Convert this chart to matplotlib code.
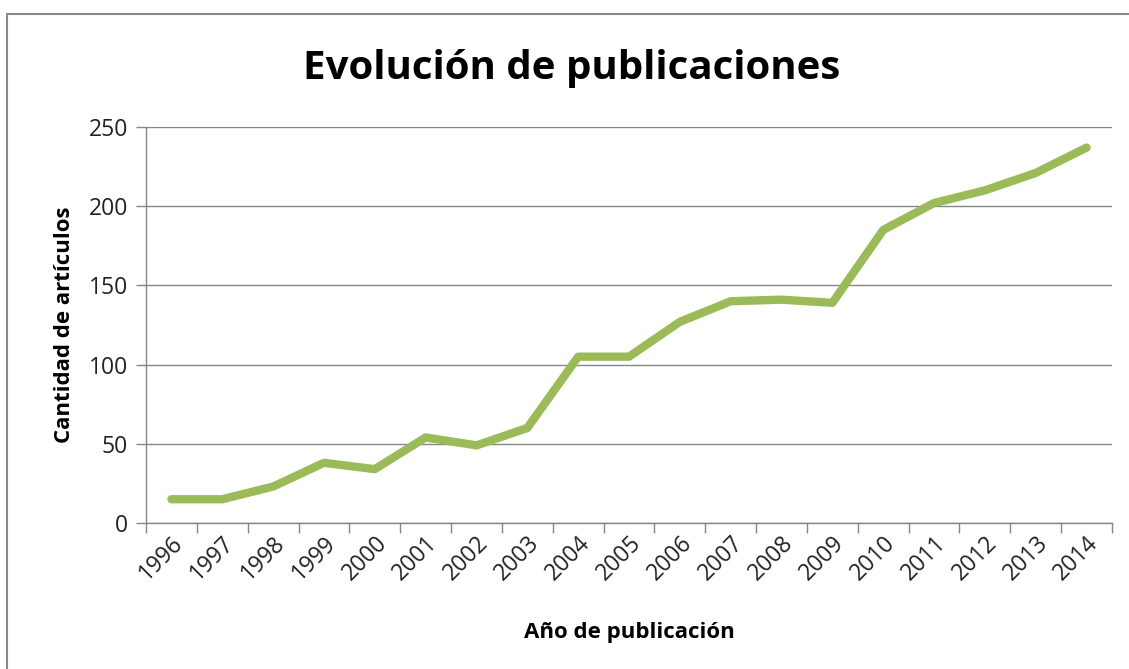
import matplotlib
matplotlib.use("Agg")
import matplotlib.pyplot as plt
from matplotlib.patches import Rectangle

years = ["1996", "1997", "1998", "1999", "2000", "2001", "2002", "2003", "2004", "2005",
         "2006", "2007", "2008", "2009", "2010", "2011", "2012", "2013", "2014"]
articles = [15, 15, 23, 38, 34, 54, 49, 60, 105, 105,
            127, 140, 141, 139, 185, 202, 210, 221, 237]
yticks = [0, 50, 100, 150, 200, 250]

plt.rcParams['font.family'] = ['Open Sans', 'DejaVu Sans']

W, H = 1129, 669
fig = plt.figure(figsize=(W / 100, H / 100), dpi=100)
ax = fig.add_axes([146 / W, 1 - 523 / H, (1112 - 146) / W, (523 - 127) / H])

x = list(range(len(years)))
ax.plot(x, articles, color='#9BBB59', lw=6.0, solid_capstyle='round', solid_joinstyle='round', zorder=3)

ax.set_xlim(-0.5, len(years) - 0.5)
ax.set_ylim(0, 250)
ax.set_yticks(yticks)
ax.set_yticklabels([str(v) for v in yticks], fontsize=16.5, color='#222222')
ax.set_xticks(x)
ax.set_xticklabels(years, rotation=45, ha='right', rotation_mode='anchor', fontsize=16.5, color='#222222')
ax.tick_params(axis='x', length=0, pad=6)
ax.set_xticks([i - 0.5 for i in range(len(years) + 1)], minor=True)
ax.tick_params(axis='x', which='minor', length=7, color='#868686', width=1)
ax.tick_params(axis='y', length=7, color='#868686', width=1, pad=6)

ax.grid(axis='y', color='#868686', lw=1)
ax.set_axisbelow(True)
for s in ['top', 'right']:
    ax.spines[s].set_visible(False)
for s in ['left', 'bottom']:
    ax.spines[s].set_color('#868686')
    ax.spines[s].set_linewidth(1)

ax.set_ylabel('Cantidad de artículos', fontsize=16, fontweight='bold', labelpad=10)
ax.set_xlabel('Año de publicación', fontsize=16, fontweight='bold', labelpad=26)
fig.text(0.5065, 1 - 69 / H, 'Evolución de publicaciones', fontsize=29, fontweight='bold',
         ha='center', va='center')

fig.patches.append(Rectangle((7 / W, -0.1), 1.2, 1.1 - 14 / H, transform=fig.transFigure,
                             fill=False, edgecolor='#898989', lw=1.5))

fig.savefig('out.png', dpi=100)
